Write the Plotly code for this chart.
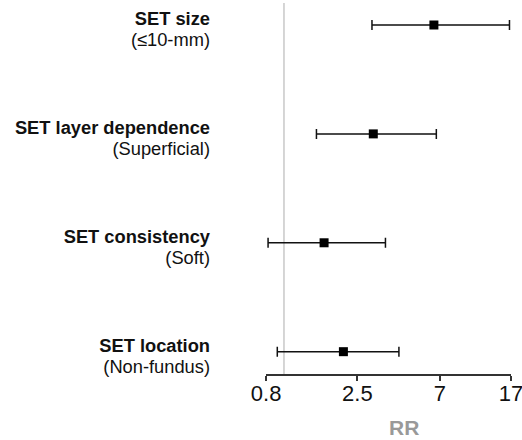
import math
import plotly.graph_objects as go

# Data (top-to-bottom order as in the chart)
labels = ["SET size", "SET layer dependence", "SET consistency", "SET location"]
subtitles = ["(≤10-mm)", "(Superficial)", "(Soft)", "(Non-fundus)"]
rr = [6.5, 3.05, 1.65, 2.1]
ci_low = [3.0, 1.5, 0.82, 0.92]
ci_high = [16.7, 6.7, 3.55, 4.2]
x_tick_vals = [0.8, 2.5, 7, 17]
x_tick_text = ["0.8", "2.5", "7", "17"]
ref_value = 1

FONT = "Liberation Sans, Arial, sans-serif"
LBL = "<span style='font-size:18.3px'>{}</span>"

err_plus = [h - v for h, v in zip(ci_high, rr)]
err_minus = [v - l for v, l in zip(rr, ci_low)]

fig = go.Figure()
fig.add_trace(go.Scatter(
    x=rr, y=labels, mode="markers",
    marker=dict(symbol="square", size=9, color="#000000"),
    error_x=dict(type="data", symmetric=False, array=err_plus, arrayminus=err_minus,
                 color="#111111", thickness=1.5, width=5),
    showlegend=False, hoverinfo="x+y",
))

fig.add_shape(type="line", xref="x", yref="paper", x0=ref_value, x1=ref_value, y0=0, y1=1,
              line=dict(color="#c8c8c8", width=1.5), layer="below")

fig.add_annotation(text="<b>RR</b>", xref="paper", yref="paper", x=0.564, y=-0.143,
                   xanchor="center", yanchor="middle", showarrow=False,
                   font=dict(family=FONT, size=21, color="#999999"))

fig.update_layout(
    width=522, height=440,
    margin=dict(l=266, r=11, t=3, b=66),
    paper_bgcolor="white", plot_bgcolor="white",
    font=dict(family=FONT, color="#111111"),
    xaxis=dict(
        type="log", range=[math.log10(0.8) - 0.0005, math.log10(17) + 0.0005],
        tickvals=x_tick_vals, ticktext=x_tick_text,
        ticks="outside", ticklen=5, tickwidth=1.5, tickcolor="#333333",
        showline=True, linecolor="#333333", linewidth=1.5,
        showgrid=False, zeroline=False, automargin=False,
        ticklabeloverflow="allow", ticklabelstandoff=-6,
        tickfont=dict(family=FONT, size=22, color="#111111"),
    ),
    yaxis=dict(
        type="category", categoryorder="array", categoryarray=labels[::-1],
        range=[-0.205, 3.202],
        tickvals=labels,
        ticktext=["<b>" + LBL.format(a) + "</b><br>" + LBL.format(b)
                  for a, b in zip(labels, subtitles)],
        showline=False, showgrid=False, zeroline=False, ticks="",
        ticklabelstandoff=55, ticklabelshift=5, automargin=False,
        tickfont=dict(family=FONT, size=16.5, color="#111111"),
    ),
)

fig.write_html("out.html", config={"displayModeBar": False},
               post_script="document.body.style.margin='0px';")
